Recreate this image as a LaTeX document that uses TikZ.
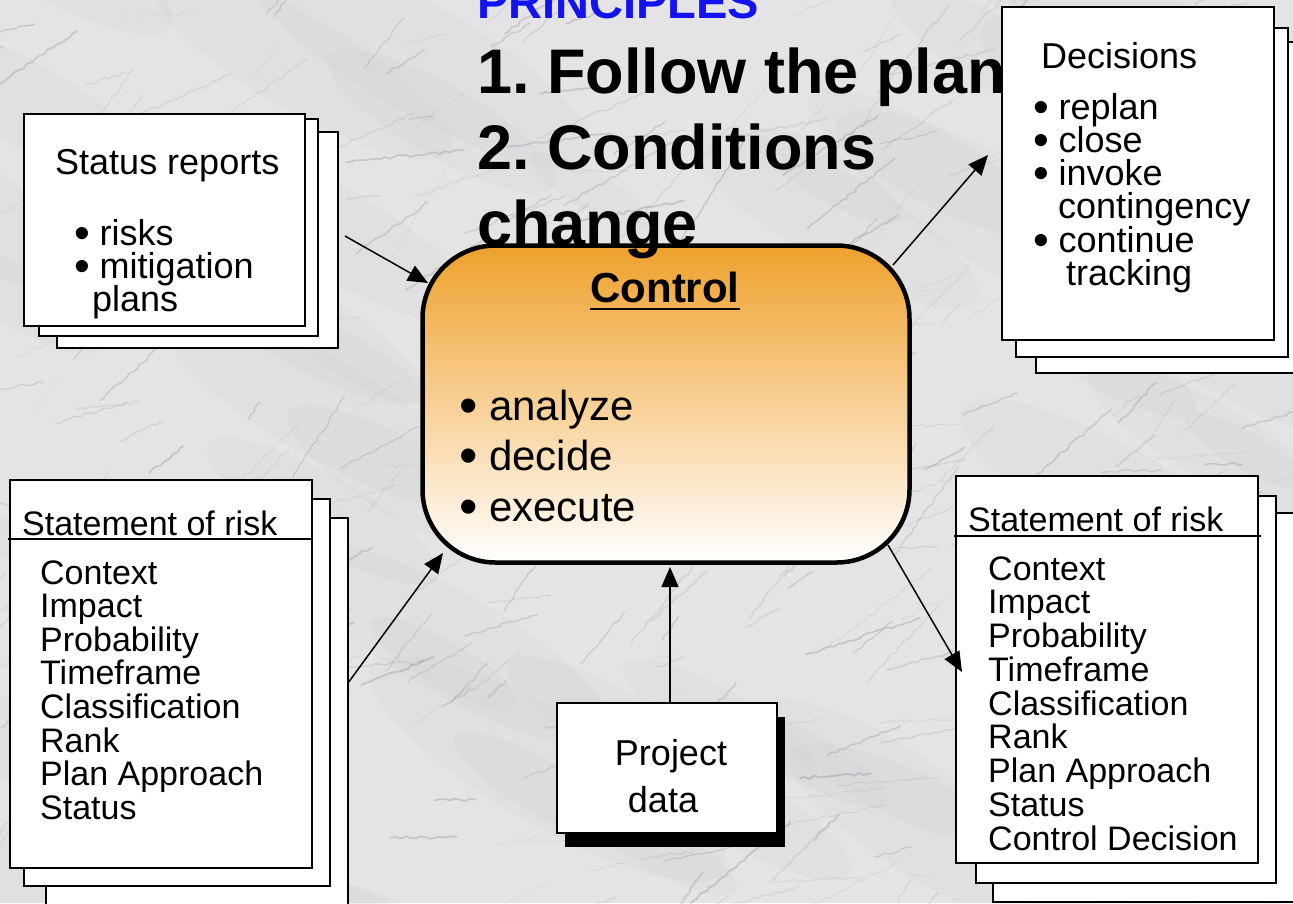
\documentclass[tikz,border=0pt]{standalone}
\usepackage{fontspec}
\setmainfont{Liberation Sans}
\usetikzlibrary{arrows.meta,decorations.pathmorphing}

\definecolor{marble}{HTML}{E4E4E6}
\definecolor{vein}{HTML}{85858C}
\definecolor{cloud}{HTML}{C8C8CC}
\definecolor{ctlorange}{HTML}{EFA12C}
\definecolor{titleblue}{HTML}{1212F2}

\frenchspacing

\tikzset{
  page/.style={draw=black, fill=white, line width=1.3pt, inner sep=0pt},
  lbl/.style={inner sep=0pt, anchor=base west},
  fA/.style={font=\fontsize{36}{40}\selectfont},
  fB/.style={font=\fontsize{34}{38}\selectfont},
  fC/.style={font=\fontsize{42}{46}\selectfont},
  fCb/.style={font=\fontsize{42}{46}\selectfont\bfseries},
  fT/.style={font=\fontsize{63}{70}\selectfont\bfseries},
  fP/.style={font=\fontsize{47}{52}\selectfont\bfseries},
  ctlbox/.style={draw=black, line width=4.5pt, rounded corners=73pt,
    minimum width=487pt, minimum height=317pt, inner sep=0pt,
    top color=ctlorange, bottom color=white},
  arr/.style={line width=1.5pt, -{Triangle[length=20pt,width=17pt]}},
}

% list bullet: a slightly enlarged dot in a fixed-width box
\newcommand\bul{\makebox[0.62em][l]{\hspace{-0.08em}\raisebox{-0.09em}{\scalebox{1.25}{•}}}}

% one sheet of a stack, given by its corners (x1,y1) and (x2,y2)
\newcommand\stackpage[5]{%
  \node[page, minimum width={#4-#2}, minimum height={#5-#3}]
    (#1) at ({(#2+#4)/2},{(#3+#5)/2}) {};}

\begin{document}
\begin{tikzpicture}[x=1pt,y=-1pt]
\useasboundingbox (0,0) rectangle (1293,903);
\clip (0,0) rectangle (1293,903);

% marble backdrop
\fill[marble] (0,0) rectangle (1293,903);
\pgfmathsetseed{2718}
\foreach \i in {1,...,60}{
  \pgfmathsetmacro\cx{rnd*1393-50}
  \pgfmathsetmacro\cy{rnd*1003-50}
  \pgfmathsetmacro\cr{30+rnd*70}
  \fill[cloud, opacity=0.13, rotate around={-30:(\cx,\cy)}]
    (\cx,\cy) ellipse ({\cr*2.2pt} and {\cr*0.6pt});
}
\foreach \i in {1,...,420}{
  \pgfmathsetmacro\vx{rnd*1400-60}
  \pgfmathsetmacro\vy{rnd*1000-50}
  \pgfmathsetmacro\va{-30+rand*30}
  \pgfmathsetmacro\vl{20+rnd*110}
  \pgfmathsetmacro\vw{0.3+rnd*1.6}
  \pgfmathsetmacro\vo{0.08+rnd*0.25}
  \draw[vein, line width=\vw pt, opacity=\vo, decorate,
        decoration={random steps,segment length=5pt,amplitude=1.5pt}]
    (\vx,\vy) -- ++(\va:\vl);
}

% central control box
\node[ctlbox] (ctl) at (666,404) {};
\node[lbl, fCb, anchor=base] (ctl-title) at (665,302) {Control};
\draw[line width=2.8pt] ([yshift=-7pt]ctl-title.base west) -- ([yshift=-7pt]ctl-title.base east);
\node[lbl, fC] (ctl-1) at (463,420) {\bul analyze};
\node[lbl, fC] (ctl-2) at (463,470) {\bul decide};
\node[lbl, fC] (ctl-3) at (463,521) {\bul execute};

% principles heading
\node[lbl, fP, text=titleblue] (pr-0) at (477,18) {PRINCIPLES};
\node[lbl, fT] (pr-1) at (477,93) {1. Follow the plan};
\node[lbl, fT] (pr-2) at (477,169) {2. Conditions};
\node[lbl, fT] (pr-3) at (477,245) {change};

% decisions stack
\stackpage{dec3}{1036}{42}{1310}{373}
\stackpage{dec2}{1016}{28}{1288}{357}
\stackpage{dec}{1002}{7}{1274}{340}
\node[lbl, fA] (dec-h) at (1041,68) {Decisions};
\node[lbl, fA] (dec-1) at (1036,119) {\bul replan};
\node[lbl, fA] (dec-2) at (1036,152) {\bul close};
\node[lbl, fA] (dec-3) at (1036,185) {\bul invoke};
\node[lbl, fA] (dec-4) at (1058,218) {contingency};
\node[lbl, fA] (dec-5) at (1036,252) {\bul continue};
\node[lbl, fA] (dec-6) at (1066,285) {tracking};

% status reports stack
\stackpage{sr3}{57}{132}{338}{348}
\stackpage{sr2}{39}{119}{318}{336}
\stackpage{sr}{24}{114}{305}{326}
\node[lbl, fA] (sr-h) at (55,174) {Status reports};
\node[lbl, fA] (sr-1) at (77,245) {\bul risks};
\node[lbl, fA] (sr-2) at (77,278) {\bul mitigation};
\node[lbl, fA] (sr-3) at (92,311) {plans};

% left statement of risk stack
\stackpage{sl3}{46}{518}{348}{920}
\stackpage{sl2}{24}{499}{330}{886}
\stackpage{sl}{10}{480}{312}{868}
\node[lbl, fB] (sl-h) at (22,535) {Statement of risk};
\draw[line width=1.3pt] (8,539) -- (312,539);
\foreach \t [count=\k] in {Context,Impact,Probability,Timeframe,Classification,Rank,Plan Approach,Status}
  \node[lbl, fB] (sl-\k) at (40,{584+33.6*(\k-1)}) {\t};

% right statement of risk stack
\stackpage{st3}{993}{513}{1310}{902}
\stackpage{st2}{976}{496}{1276}{883}
\stackpage{st}{956}{476}{1258}{863}
\node[lbl, fB] (st-h) at (968,531) {Statement of risk};
\draw[line width=1.3pt] (954,536) -- (1261,536);
\foreach \t [count=\k] in {Context,Impact,Probability,Timeframe,Classification,Rank,Plan Approach,Status,Control Decision}
  \node[lbl, fB] (st-\k) at (988,{580+33.75*(\k-1)}) {\t};

% project data
\fill (565,717) rectangle (785,847);
\stackpage{pd}{557}{703}{777}{833}
\node[lbl, fA, anchor=base] (pd-1) at (671,765) {Project};
\node[lbl, fA, anchor=base] (pd-2) at (663,812) {data};

% connector end points
\coordinate (sr-out) at (345,236);
\coordinate (ctl-nw) at (428,283);
\coordinate (ctl-ne) at (893,265);
\coordinate (dec-in) at (988,155);
\coordinate (sl-out) at (348,683);
\coordinate (ctl-sw) at (443,553);
\coordinate (ctl-se) at (888,545);
\coordinate (st-in) at (962,672);
\coordinate (pd-out) at (670,703);
\coordinate (ctl-s) at (670,567);

\draw[arr] (sr-out) -- (ctl-nw);
\draw[arr] (ctl-ne) -- (dec-in);
\draw[arr] (sl-out) -- (ctl-sw);
\draw[arr] (ctl-se) -- (st-in);
\draw[arr] (pd-out) -- (ctl-s);
\end{tikzpicture}
\end{document}
